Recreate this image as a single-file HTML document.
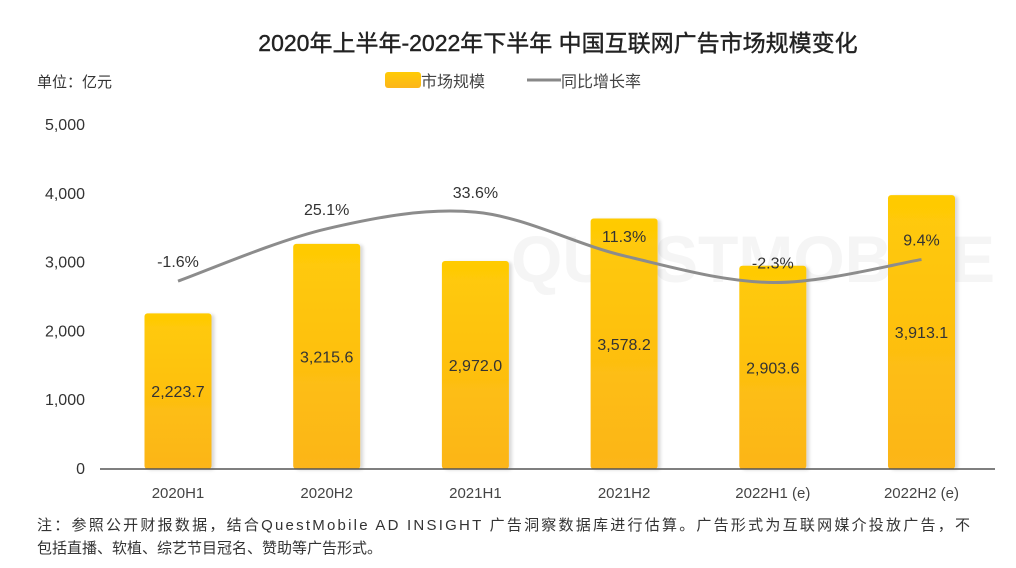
<!DOCTYPE html>
<html><head><meta charset="utf-8"><style>
body{margin:0;background:#fff;width:1016px;height:568px;overflow:hidden;font-family:"Liberation Sans","Noto Sans CJK SC",sans-serif;}
</style></head><body>
<svg width="1016" height="568" style="position:absolute;left:0;top:0" font-family="Liberation Sans, Noto Sans CJK SC, sans-serif">
<defs>
<linearGradient id="bg" x1="0" y1="0" x2="0" y2="1"><stop offset="0" stop-color="#FFCB05"/><stop offset="1" stop-color="#FCB51A"/></linearGradient>
<filter id="sh" x="-20%" y="-5%" width="150%" height="110%"><feDropShadow dx="3" dy="1" stdDeviation="1.5" flood-color="#000" flood-opacity="0.15"/></filter>
</defs>
<text x="995" y="282" text-anchor="end" font-size="66" fill="#f5f5f5" font-weight="bold">QUESTMOBILE</text>
<text x="558" y="51" text-anchor="middle" font-size="23" fill="#222" stroke="#222" stroke-width="0.4">2020年上半年-2022年下半年 中国互联网广告市场规模变化</text>
<text x="37" y="87" font-size="15" fill="#333">单位：亿元</text>
<g>
<rect x="385" y="72" width="36" height="16" rx="3" fill="url(#bg)"/>
<text x="421" y="87" font-size="16" fill="#444">市场规模</text>
<line x1="527" y1="80" x2="561" y2="80" stroke="#888" stroke-width="3"/>
<text x="561" y="87" font-size="16" fill="#444">同比增长率</text>
</g>
<g id="yaxis"></g>
<g id="bars"></g>
<line x1="100" y1="469" x2="995" y2="469" stroke="#555" stroke-width="1.5"/>
<g id="line"></g>
<g id="xaxis"></g>
<text x="37" y="530" font-size="15" fill="#333" textLength="933">注：参照公开财报数据，结合QuestMobile AD INSIGHT 广告洞察数据库进行估算。广告形式为互联网媒介投放广告，不</text>
<text x="37" y="553" font-size="15" fill="#333">包括直播、软植、综艺节目冠名、赞助等广告形式。</text>
</svg>
<script>
const categories=["2020H1","2020H2","2021H1","2021H2","2022H1 (e)","2022H2 (e)"];
const marketSize=[2223.7,3215.6,2972.0,3578.2,2903.6,3913.1];
const growthRate=[-1.6,25.1,33.6,11.3,-2.3,9.4];
const yTicks=[0,1000,2000,3000,4000,5000];
const NS="http://www.w3.org/2000/svg";
function y(v){return 469-v*(350/5000);}
function yr(p){return 278-p*1.96;}
function x(i){return 178+i*148.7;}
function mk(t,a,p){const e=document.createElementNS(NS,t);for(const k in a)e.setAttribute(k,a[k]);p.appendChild(e);return e;}
const ya=document.getElementById('yaxis');
yTicks.forEach(v=>{const t=mk('text',{x:85,y:469-v*(344/5000)+5,'text-anchor':'end','font-size':16,fill:'#333'},ya);t.textContent=v.toLocaleString('en-US');

});
const bg=document.getElementById('bars');
marketSize.forEach((v,i)=>{const r=mk('rect',{x:x(i)-33.5,y:y(v),width:67,height:469-y(v),rx:3,fill:'url(#bg)',filter:'url(#sh)'},bg);


const t=mk('text',{x:x(i),y:(y(v)+469)/2+6,'text-anchor':'middle','font-size':16,fill:'#333'},bg);t.textContent=v.toLocaleString('en-US',{minimumFractionDigits:1,maximumFractionDigits:1});

});
const lg=document.getElementById('line');
const pts=growthRate.map((p,i)=>[x(i),yr(p)]);
let d='M'+pts[0][0]+','+pts[0][1];
for(let i=0;i<pts.length-1;i++){const p0=pts[i-1]||pts[i],p1=pts[i],p2=pts[i+1],p3=pts[i+2]||p2;
d+=' C'+(p1[0]+(p2[0]-p0[0])/6)+','+(p1[1]+(p2[1]-p0[1])/6)+' '+(p2[0]-(p3[0]-p1[0])/6)+','+(p2[1]-(p3[1]-p1[1])/6)+' '+p2[0]+','+p2[1];}
const path=mk('path',{d:d,fill:'none',stroke:'#8c8c8c','stroke-width':3},lg);


growthRate.forEach((p,i)=>{const t=mk('text',{x:x(i),y:yr(p)-14,'text-anchor':'middle','font-size':16,fill:'#333'},lg);t.textContent=p.toFixed(1)+'%';

});
const xa=document.getElementById('xaxis');
categories.forEach((c,i)=>{const t=mk('text',{x:x(i),y:498,'text-anchor':'middle','font-size':15,fill:'#444'},xa);t.textContent=c;

});
</script>
</body></html>
